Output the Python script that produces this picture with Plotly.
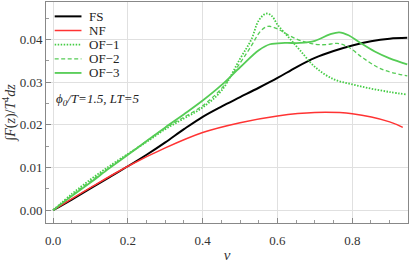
import plotly.graph_objects as go

# ---- data ----
v_fs = [0, 0.05, 0.1, 0.15, 0.2, 0.25, 0.3, 0.35, 0.4, 0.45, 0.5, 0.55, 0.6, 0.65, 0.7, 0.75, 0.8, 0.85, 0.9, 0.947]
y_fs = [0, 0.0025, 0.0051, 0.0077, 0.0103, 0.013, 0.0159, 0.0190, 0.0219, 0.0243, 0.0265, 0.0287, 0.0310, 0.0335, 0.0357, 0.0373, 0.0386, 0.0396, 0.0402, 0.0404]

v_nf = [0, 0.1, 0.2, 0.3, 0.4, 0.5, 0.6, 0.7, 0.8, 0.9, 0.935]
y_nf = [0, 0.0053, 0.0103, 0.0146, 0.0182, 0.0205, 0.0221, 0.0229, 0.0226, 0.0207, 0.0194]

v_of1 = [0, 0.05, 0.1, 0.15, 0.2, 0.25, 0.3, 0.35, 0.4, 0.45, 0.5, 0.53, 0.55, 0.57, 0.585, 0.6, 0.63, 0.66, 0.7, 0.75, 0.8, 0.85, 0.9, 0.947]
y_of1 = [0, 0.0038, 0.0072, 0.0103, 0.0132, 0.016, 0.019, 0.0215, 0.0241, 0.028, 0.0355, 0.040, 0.0445, 0.0461, 0.0455, 0.0435, 0.0405, 0.0375, 0.0336, 0.0307, 0.0295, 0.0285, 0.0277, 0.0271]

v_of2 = [0, 0.05, 0.1, 0.15, 0.2, 0.25, 0.3, 0.35, 0.4, 0.45, 0.5, 0.53, 0.555, 0.575, 0.6, 0.63, 0.66, 0.7, 0.73, 0.76, 0.79, 0.83, 0.88, 0.947]
y_of2 = [0, 0.0035, 0.0068, 0.0100, 0.0131, 0.0162, 0.0193, 0.0218, 0.0245, 0.0285, 0.0345, 0.0385, 0.0420, 0.0431, 0.0425, 0.0410, 0.0398, 0.0389, 0.0388, 0.0391, 0.0382, 0.0356, 0.0330, 0.0315]

v_of3 = [0, 0.05, 0.1, 0.15, 0.2, 0.25, 0.3, 0.35, 0.4, 0.45, 0.5, 0.55, 0.58, 0.62, 0.66, 0.7, 0.74, 0.765, 0.79, 0.82, 0.86, 0.9, 0.947]
y_of3 = [0, 0.0033, 0.0065, 0.0098, 0.013, 0.0162, 0.0194, 0.0225, 0.0257, 0.0293, 0.0335, 0.0375, 0.0389, 0.0392, 0.0392, 0.0397, 0.0412, 0.0417, 0.0410, 0.0393, 0.0372, 0.0356, 0.0342]

names = ["FS", "NF", "OF\u22121", "OF\u22122", "OF\u22123"]
xs = [v_fs, v_nf, v_of1, v_of2, v_of3]
ys = [y_fs, y_nf, y_of1, y_of2, y_of3]
colors = ["black", "#ff3333", "#44cc44", "#55cc55", "#55cc55"]
dashes = ["solid", "solid", "1.5px,1.5px", "4px,2.5px", "solid"]
widths = [2, 1.5, 1.8, 1.3, 1.8]

x_ticks = [0.0, 0.2, 0.4, 0.6, 0.8]
x_ticklabels = ["0.0", "0.2", "0.4", "0.6", "0.8"]
y_ticks = [0.00, 0.01, 0.02, 0.03, 0.04]
y_ticklabels = ["0.00", "0.01", "0.02", "0.03", "0.04"]

FONT = "Liberation Serif"

fig = go.Figure()
for x, y, n, c, d, w in zip(xs, ys, names, colors, dashes, widths):
    fig.add_trace(go.Scatter(x=x, y=y, mode="lines", name=n,
                             line=dict(color=c, dash=d, width=w, shape="spline", smoothing=1.0),
                             showlegend=False))

# manual legend (compact spacing like the reference)
leg_top = 0.935
leg_step = 0.064
for i, (n, c, d, w) in enumerate(zip(names, colors, dashes, widths)):
    yy = leg_top - i * leg_step
    fig.add_shape(type="line", xref="paper", yref="paper",
                  x0=0.024, x1=0.098, y0=yy, y1=yy,
                  line=dict(color=c, dash=d, width=w))
    fig.add_annotation(xref="paper", yref="paper", x=0.113, y=yy, text=n,
                       showarrow=False, xanchor="left", yanchor="middle",
                       font=dict(family=FONT, size=13, color="#222"))

fig.add_annotation(xref="paper", yref="paper", x=0.022, y=0.56,
                   text="<i>\u03d5<sub>0</sub>/T=1.5, LT=5</i>",
                   showarrow=False, xanchor="left", yanchor="middle",
                   font=dict(family=FONT, size=13, color="#222"))

axis_common = dict(showline=True, linecolor="#888", linewidth=1, mirror=True,
                   ticks="inside", ticklen=5, tickcolor="#888",
                   showgrid=True, gridcolor="#e0e0e0", gridwidth=1,
                   zeroline=False,
                   tickfont=dict(family=FONT, size=13, color="#333"),
                   minor=dict(ticks="inside", ticklen=3, tickcolor="#999", nticks=5, showgrid=False))

fig.update_xaxes(range=[-0.019, 0.949], tickvals=x_ticks, ticktext=x_ticklabels,
                 ticklabelstandoff=5,
                 title=dict(text="<i>v</i>", font=dict(family=FONT, size=15, color="#333"), standoff=4),
                 **axis_common)
fig.update_yaxes(range=[-0.003, 0.0488], tickvals=y_ticks, ticktext=y_ticklabels,
                 title=dict(text="\u222b<i>F</i>(<i>z</i>)/<i>T</i><sup>4</sup><i>dz</i>",
                            font=dict(family=FONT, size=14, color="#333"), standoff=4),
                 **axis_common)

fig.update_layout(width=410, height=263, margin=dict(l=46, r=1, t=1, b=39),
                  plot_bgcolor="white", paper_bgcolor="white")

fig.write_html("out.html", config={"displayModeBar": False},
               post_script="document.body.style.margin='0';document.body.style.overflow='hidden';")
